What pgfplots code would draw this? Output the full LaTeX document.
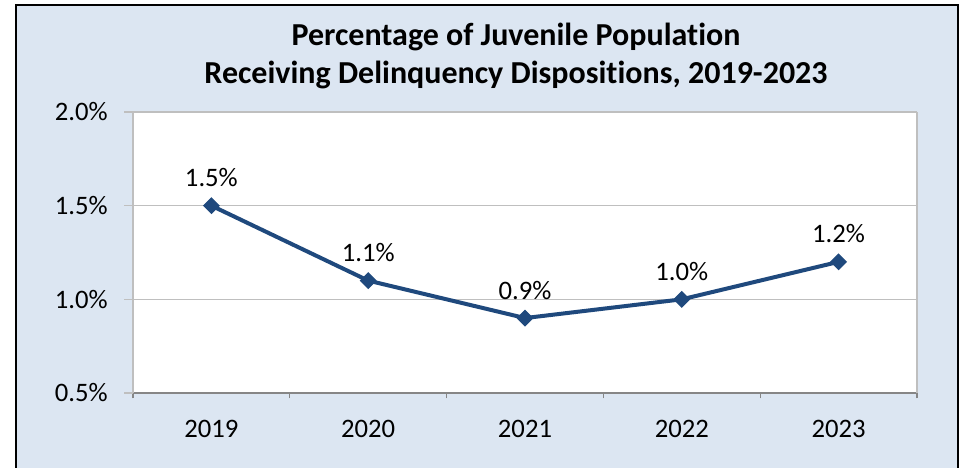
\documentclass[border=0pt]{standalone}
\usepackage{pgfplots}
\pgfplotsset{compat=1.18}
\usepackage{fontspec}
\setmainfont[Ligatures=NoCommon]{Carlito}
\definecolor{bgblue}{RGB}{220,230,242}
\definecolor{lineblue}{RGB}{31,73,125}
\definecolor{gridgray}{RGB}{191,191,191}
\definecolor{axgray}{RGB}{134,134,134}
\begin{document}
\begin{tikzpicture}[x=0.75pt,y=0.75pt]
\path[use as bounding box] (0,0) rectangle (965,468);
\fill[bgblue] (16,-10) rectangle (958,463);
\draw[black,line width=1.6pt] (16,-10) -- (16,463) -- (958,463) -- (958,-10);
\node[font=\bfseries\fontsize{24}{28}\selectfont] at (516,431) {Percentage of Juvenile Population};
\node[font=\bfseries\fontsize{24}{28}\selectfont] at (516,393) {Receiving Delinquency Dispositions, 2019-2023};
\begin{axis}[
  at={(99.75pt,56.25pt)}, anchor=south west,
  scale only axis, width=588pt, height=210.75pt,
  xmin=-0.5, xmax=4.5, ymin=0.5, ymax=2.0,
  axis x line*=bottom, axis y line*=left,
  x axis line style={axgray, line width=1pt},
  y axis line style={gridgray, line width=1pt},
  xtick={0,1,2,3,4},
  xticklabels={2019,2020,2021,2022,2023},
  major x tick style={draw=none},
  minor xtick={-0.5,0.5,1.5,2.5,3.5,4.5},
  minor x tick style={axgray, line width=1pt},
  minor tick length=4pt,
  ytick={0.5,1.0,1.5,2.0},
  yticklabels={0.5\%,1.0\%,1.5\%,2.0\%},
  major y tick style={gridgray, line width=1pt},
  major tick length=6.5pt,
  tick align=outside,
  ymajorgrids,
  major grid style={gridgray, line width=1pt},
  tick label style={font=\fontsize{20}{24}\selectfont},
  xticklabel style={yshift=-10pt},
  yticklabel style={xshift=-9pt},
  axis background/.style={fill=white},
  clip=false,
  nodes near coords,
  point meta=explicit symbolic,
  every node near coord/.append style={font=\fontsize{20}{24}\selectfont, anchor=center, yshift=21pt, text=black},
]
\addplot[lineblue, line width=3pt, mark=square*, mark size=4.1pt, mark options={rotate=45, solid, line width=0.8pt, fill=lineblue}]
coordinates {(0,1.5)[1.5\%] (1,1.1)[1.1\%] (2,0.9)[0.9\%] (3,1.0)[1.0\%] (4,1.2)[1.2\%]};
\draw[gridgray, line width=1pt] (axis cs:4.5,0.5) -- (axis cs:4.5,2.0);
\end{axis}
\end{tikzpicture}
\end{document}
